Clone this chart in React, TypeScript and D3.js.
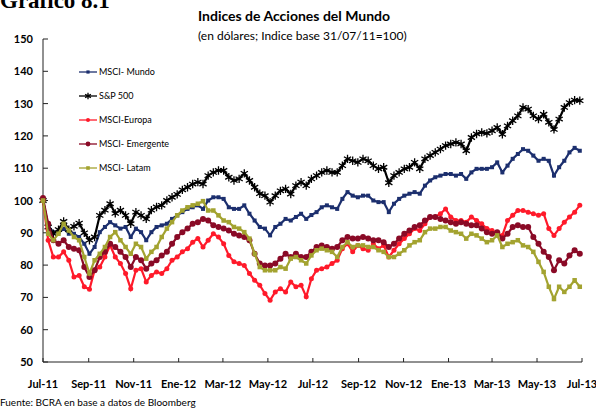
import React from "react";
import * as d3 from "d3";

const width = 596, height = 410;

// weekly readings, first week = 29/07/2011
const startDate = new Date(2011, 6, 29);

const mundo = [
  100, 92.3, 90.2, 90.2, 91.3, 89.7, 89.7, 88.7, 86.6, 83.5,
  85.6, 90.2, 91.8, 93.3, 92.3, 91.3, 91.8, 88.7, 91.3, 90.2,
  87.7, 90.2, 91.8, 92.3, 92.8, 94.3, 95.4, 96.4, 97.4, 97.9,
  98.5, 97.4, 100, 101, 101, 100.5, 97.9, 97.4, 97.4, 98.5,
  95.9, 93.8, 91.8, 91.3, 89.2, 91.8, 92.8, 94.3, 93.8, 94.9,
  95.9, 94.3, 95.5, 96.4, 97.9, 98.5, 97.9, 97.4, 100.5, 102.6,
  101.5, 101, 101.5, 101.5, 100, 99.5, 99.5, 96.4, 99, 100.5,
  101.5, 102.1, 102.6, 102.1, 104.6, 106.2, 107.2, 107.7, 108.2, 108.2,
  107.7, 108.2, 106.7, 108.7, 109.8, 109.8, 109.8, 110.3, 111.8, 108.7,
  110.8, 112.9, 114.4, 115.9, 115.4, 113.9, 112.3, 112.9, 112.3, 107.7,
  110.3, 112.3, 114.9, 116.3, 115.4,
];

const sp500 = [
  100, 91.8, 89.7, 91, 93.5, 91, 92, 93, 90, 87.7,
  88.7, 95.4, 97, 99, 96, 97, 95.4, 92.8, 96.4, 95.4,
  94.3, 97, 98, 98.5, 100, 101, 101.9, 103.3, 104.1, 105.1,
  105.7, 105.1, 107.7, 108.7, 109.3, 109.3, 107.2, 106.2, 106.7, 108.4,
  106.2, 104.1, 102.1, 101.5, 99.5, 101.5, 103, 103.6, 102, 104.6,
  105.7, 104.6, 106.7, 107.7, 108.7, 109.3, 108.7, 108.7, 110.8, 112.9,
  112.3, 111.8, 112.9, 112.3, 110.8, 109.8, 110.3, 105.5, 107.7, 108.7,
  109.8, 110.3, 111.8, 109.8, 112.9, 113.9, 114.9, 115.9, 117, 117.5,
  118, 117.5, 115.4, 119.5, 120.6, 121.1, 120.8, 121.6, 122.6, 120.5,
  123.1, 124.7, 126.2, 128.8, 128.3, 126.2, 125.2, 126.7, 124.2, 122,
  125.2, 128.8, 130.3, 131.1, 130.9,
];

const europa = [
  100, 87.7, 82.5, 82.5, 84.1, 81.5, 76.3, 76.8, 73.3, 72.5,
  78.4, 79.4, 82.5, 86.1, 82.5, 80.5, 77.4, 72.7, 78.4, 78.9,
  74.8, 76.8, 77.9, 77.4, 78.9, 81.5, 82.5, 84.1, 85.1, 87.1,
  88.2, 85.6, 87.7, 89.7, 88.7, 86.6, 83, 81, 80.5, 79.9,
  77.4, 75.3, 73.8, 71.2, 69.1, 71.7, 72.7, 71.7, 74.8, 73.3,
  73.8, 70.2, 75.8, 78.4, 78.9, 79.4, 80.5, 81.5, 85.1, 86.6,
  84.1, 86.1, 85.1, 84.6, 86.6, 85.1, 86.1, 82.5, 84.6, 86.6,
  88.2, 89.7, 91.3, 90.7, 92.8, 94.9, 94.9, 95.9, 97.4, 94.9,
  93.8, 93.8, 93.3, 94.9, 93.8, 92.8, 91.3, 90.7, 89.7, 89.2,
  93.8, 95.4, 96.9, 96.9, 96.4, 95.9, 95.4, 95.9, 91.3, 89.2,
  91.3, 93.3, 94.9, 96.4, 98.5,
];

const emergente = [
  100.8, 92.8, 87.7, 86.6, 87.7, 85.6, 85.1, 84.6, 79.4, 76.3,
  78.4, 82.5, 84.1, 86.6, 85.6, 84.1, 82.5, 79.4, 82.5, 81.5,
  78.9, 80.5, 81.5, 83, 84.1, 86.6, 88.7, 90.2, 91.3, 92.8,
  93.3, 94.3, 93.8, 92.3, 91.8, 91.3, 90.7, 89.7, 89.2, 88.7,
  87.7, 83.5, 80.5, 79.9, 79.9, 80.5, 82, 83.5, 82.5, 83.5,
  82.5, 82.5, 84.1, 85.6, 86.1, 85.6, 85.1, 85.6, 87.7, 88.7,
  88.2, 88.2, 88.7, 88.2, 87.7, 87.7, 87.1, 85.6, 86.6, 88.2,
  89.7, 90.7, 91.8, 92.3, 93.8, 94.9, 94.9, 94.3, 93.8, 93.3,
  92.8, 93.3, 92.8, 92.3, 92.3, 91.3, 90.2, 89.7, 90.2, 88.2,
  89.7, 91.8, 92.3, 91.8, 91.8, 88.7, 86.6, 84.1, 82.5, 78.4,
  81.5, 80.5, 83, 84.6, 83.5,
];

const latam = [
  100, 89.7, 87.7, 89.7, 92.8, 90.7, 88.7, 87.7, 82.5, 77.4,
  81.5, 83.5, 85.6, 88.7, 90.2, 87.7, 85.6, 83.5, 86.6, 85.6,
  82, 84.1, 85.6, 88.7, 91.3, 93.3, 95.4, 96.9, 97.9, 98.5,
  99, 99.8, 96.9, 96.9, 95.4, 93.8, 93.3, 91.8, 91.3, 90.2,
  88.2, 83.5, 79.4, 78.4, 78.4, 78.4, 79.4, 78.9, 82, 82.5,
  81.5, 80.5, 83, 84.6, 85.1, 84.6, 84.1, 82.5, 85.6, 87.1,
  85.6, 86.1, 86.1, 85.6, 85.6, 84.6, 84.1, 82.5, 82.5, 83.5,
  84.6, 86.1, 87.1, 87.7, 90.2, 91.3, 91.3, 91.8, 91.8, 90.7,
  90.2, 89.7, 88.2, 89.7, 89.2, 88.2, 87.1, 87.7, 89.2, 85.6,
  86.6, 87.1, 87.7, 86.1, 85.6, 84.1, 81, 77.9, 73.3, 69.5,
  73.3, 71.7, 73.3, 75.3, 73.3,
];

const yTicks = [50, 60, 70, 80, 90, 100, 110, 120, 130, 140, 150];
const meses = ["Ene", "Feb", "Mar", "Abr", "May", "Jun", "Jul", "Ago", "Sep", "Oct", "Nov", "Dic"];

const series = [
  { name: "MSCI- Mundo", values: mundo, color: "#1c2f6e", marker: "square", size: 4 },
  { name: "S&P 500", values: sp500, color: "#000000", marker: "asterisk", size: 5.5 },
  { name: "MSCI-Europa", values: europa, color: "#ff1a2a", marker: "circle", size: 2.5 },
  { name: "MSCI- Emergente", values: emergente, color: "#8a0a26", marker: "circle", size: 3 },
  { name: "MSCI- Latam", values: latam, color: "#a3a330", marker: "square", size: 4.5 },
];

const font = "Lato, 'DejaVu Sans', sans-serif";

function Marker({ kind, x, y, size, color }: any) {
  if (kind === "square")
    return <rect x={x - size / 2} y={y - size / 2} width={size} height={size} fill={color} />;
  if (kind === "circle") return <circle cx={x} cy={y} r={size} fill={color} />;
  const path = d3.symbol(d3.symbolAsterisk, size * size * 1.6)() as string;
  return <path d={path} transform={`translate(${x},${y})`} stroke={color} strokeWidth={1.3} fill="none" />;
}

export default function App() {
  const dates = mundo.map((_, i) => d3.timeWeek.offset(startDate, i));
  const x = d3.scaleTime().domain([startDate, d3.timeMonth.offset(startDate, 24)]).range([43, 582]);
  const y = d3.scaleLinear().domain([50, 150]).range([362, 39]);
  const xTicks = d3.range(13).map(k => d3.timeMonth.offset(startDate, 2 * k));
  const fmt = (d: Date) => `${meses[d.getMonth()]}-${String(d.getFullYear()).slice(2)}`;

  const line = d3.line<number>()
    .x((_, i) => x(dates[i]))
    .y(d => y(d));

  return (
    <svg width={width} height={height} style={{ position: "absolute", left: 0, top: 0, background: "#fff" }}>
      <text x={0} y={8} fontFamily="'Liberation Serif', serif" fontWeight="bold" fontSize={23}>Gráfico 8.1</text>
      <text x={198} y={21} fontFamily={font} fontWeight="bold" fontSize={14}>Indices de Acciones del Mundo</text>
      <text x={198} y={40} fontFamily={font} fontSize={12}>(en dólares; Indice base 31/07/11=100)</text>

      {/* axes */}
      <line x1={43} x2={43} y1={y(150)} y2={y(50)} stroke="#222" />
      <line x1={43} x2={x(xTicks[12])} y1={y(50)} y2={y(50)} stroke="#222" />
      {yTicks.map(t => (
        <g key={t}>
          <line x1={43} x2={48} y1={y(t)} y2={y(t)} stroke="#222" />
          <text x={33} y={y(t) + 4} textAnchor="end" fontFamily={font} fontWeight="bold" fontSize={11}>{t}</text>
        </g>
      ))}
      {xTicks.map((t, i) => (
        <g key={i}>
          <line x1={x(t)} x2={x(t)} y1={y(50)} y2={y(50) - 4} stroke="#222" />
          <text x={x(t)} y={388} textAnchor="middle" fontFamily={font} fontWeight="bold" fontSize={11}>{fmt(t)}</text>
        </g>
      ))}

      {/* series */}
      {series.map(s => (
        <g key={s.name}>
          <path d={line(s.values) as string} fill="none" stroke={s.color} strokeWidth={2.2} />
          {s.values.map((v, i) => (
            <Marker key={i} kind={s.marker} x={x(dates[i])} y={y(v)} size={s.size} color={s.color} />
          ))}
        </g>
      ))}

      {/* legend */}
      {series.map((s, i) => {
        const ly = 72 + i * 24;
        return (
          <g key={s.name}>
            <line x1={79} x2={97} y1={ly} y2={ly} stroke={s.color} strokeWidth={1.3} />
            <Marker kind={s.marker} x={88} y={ly} size={s.size * 0.8} color={s.color} />
            <text x={99} y={ly + 3} fontFamily={font} fontSize={9}>{s.name}</text>
          </g>
        );
      })}

      <text x={0} y={406} fontFamily={font} fontSize={10}>Fuente: BCRA en base a datos de Bloomberg</text>
    </svg>
  );
}
